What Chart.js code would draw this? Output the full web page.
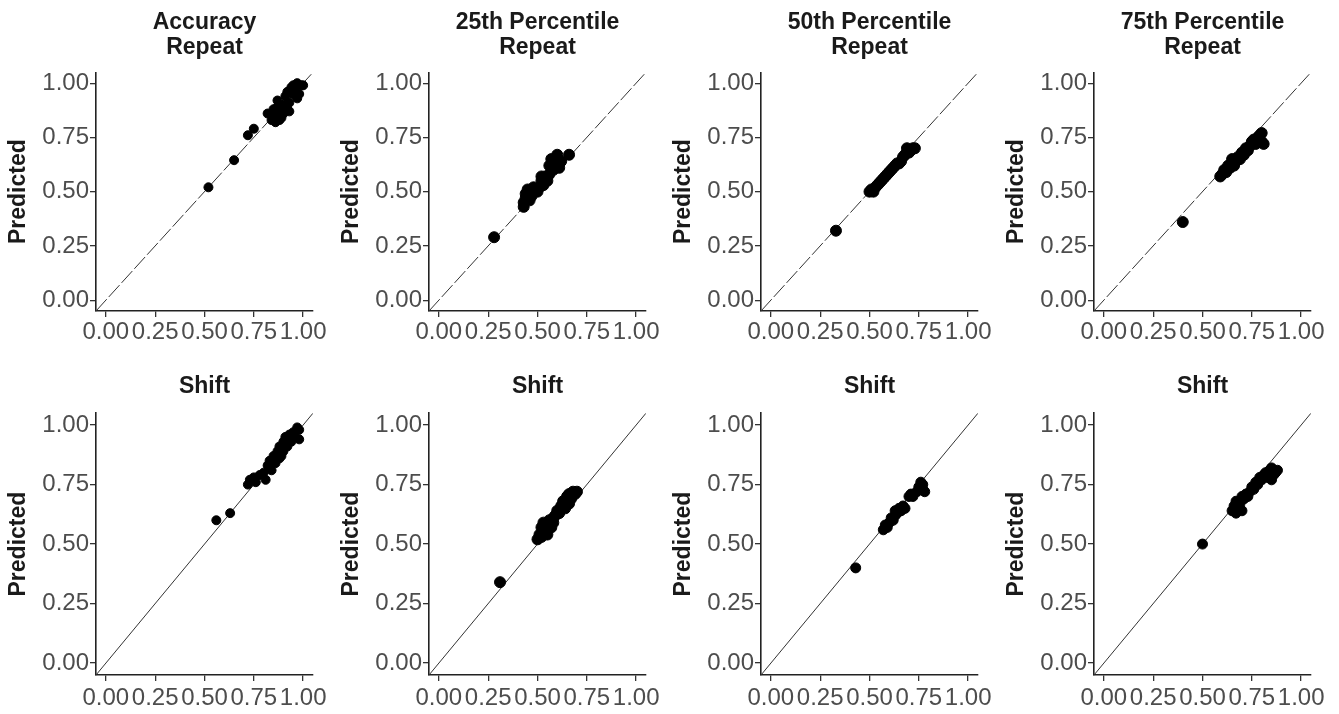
<!DOCTYPE html>
<html>
<head>
<meta charset="utf-8">
<script src="https://cdn.jsdelivr.net/npm/chart.js@4.4.1/dist/chart.umd.min.js"></script>
<style>
  body { margin: 0; background: #fff; width: 1339px; height: 714px; position: relative; overflow: hidden; }
  canvas { position: absolute; }
</style>
</head>
<body>
<canvas id="p0"></canvas>
<canvas id="p1"></canvas>
<canvas id="p2"></canvas>
<canvas id="p3"></canvas>
<canvas id="p4"></canvas>
<canvas id="p5"></canvas>
<canvas id="p6"></canvas>
<canvas id="p7"></canvas>
<script>
// panel titles, ticks
const panelTitles = [
  ['Accuracy', 'Repeat'], ['25th Percentile', 'Repeat'], ['50th Percentile', 'Repeat'], ['75th Percentile', 'Repeat'],
  ['Shift'], ['Shift'], ['Shift'], ['Shift']
];
const yLabel = 'Predicted';
const tickValues = [0, 0.25, 0.5, 0.75, 1];
const axisLimits = [-0.05, 1.05];

const accRepeatX = [0.52,0.65,0.72,0.75,0.82,0.84,0.85,0.86,0.86,0.87,0.87,0.88,0.89,0.90,0.91,0.92,0.92,0.93,0.93,0.94,0.95,0.95,0.96,0.97,0.97,0.98,0.99,1.00,0.88,0.90];
const accRepeatY = [0.52,0.645,0.76,0.79,0.86,0.83,0.88,0.82,0.85,0.92,0.89,0.87,0.84,0.90,0.94,0.96,0.88,0.91,0.87,0.98,0.99,0.95,0.97,1.00,0.93,0.95,0.99,0.99,0.83,0.86];

const p25RepeatX = [0.28,0.43,0.43,0.44,0.44,0.45,0.46,0.47,0.48,0.48,0.50,0.51,0.52,0.52,0.53,0.54,0.55,0.56,0.56,0.57,0.58,0.59,0.60,0.61,0.62,0.66];
const p25RepeatY = [0.29,0.43,0.45,0.47,0.49,0.51,0.46,0.48,0.50,0.52,0.50,0.52,0.55,0.57,0.53,0.57,0.55,0.58,0.62,0.65,0.60,0.63,0.67,0.61,0.64,0.67];

const p50RepeatX = [0.33,0.50,0.51,0.52,0.53,0.54,0.55,0.56,0.57,0.58,0.59,0.60,0.61,0.62,0.63,0.64,0.65,0.66,0.67,0.68,0.69,0.70,0.71,0.72,0.73,0.69];
const p50RepeatY = [0.32,0.50,0.51,0.50,0.52,0.53,0.54,0.55,0.56,0.57,0.58,0.59,0.60,0.61,0.62,0.63,0.63,0.64,0.66,0.67,0.68,0.68,0.69,0.70,0.70,0.70];

const p75RepeatX = [0.40,0.59,0.60,0.61,0.62,0.63,0.64,0.65,0.65,0.66,0.67,0.68,0.69,0.70,0.71,0.72,0.73,0.74,0.75,0.76,0.77,0.78,0.79,0.80,0.80,0.81];
const p75RepeatY = [0.36,0.57,0.58,0.60,0.59,0.62,0.61,0.63,0.65,0.62,0.64,0.66,0.65,0.68,0.67,0.70,0.69,0.71,0.73,0.74,0.72,0.75,0.76,0.77,0.73,0.72];

const accShiftX = [0.56,0.63,0.72,0.73,0.75,0.76,0.78,0.80,0.81,0.82,0.83,0.84,0.85,0.86,0.87,0.88,0.88,0.89,0.90,0.90,0.91,0.92,0.93,0.94,0.95,0.96,0.97,0.98,0.98];
const accShiftY = [0.60,0.63,0.75,0.77,0.78,0.76,0.79,0.80,0.77,0.83,0.85,0.81,0.87,0.84,0.89,0.86,0.91,0.87,0.93,0.89,0.95,0.91,0.96,0.93,0.97,0.95,0.99,0.94,0.98];

const p25ShiftX = [0.31,0.50,0.51,0.52,0.52,0.53,0.53,0.54,0.55,0.55,0.56,0.57,0.58,0.58,0.59,0.60,0.61,0.62,0.63,0.64,0.65,0.66,0.66,0.67,0.68,0.69,0.70];
const p25ShiftY = [0.34,0.52,0.54,0.57,0.53,0.55,0.59,0.56,0.58,0.54,0.60,0.57,0.61,0.59,0.62,0.64,0.63,0.66,0.68,0.65,0.70,0.67,0.71,0.69,0.72,0.71,0.72];

const p50ShiftX = [0.43,0.57,0.58,0.59,0.60,0.61,0.62,0.63,0.63,0.64,0.65,0.66,0.67,0.68,0.70,0.71,0.72,0.74,0.75,0.76,0.77,0.78,0.77];
const p50ShiftY = [0.40,0.56,0.58,0.57,0.59,0.61,0.60,0.62,0.64,0.63,0.65,0.64,0.66,0.65,0.70,0.71,0.70,0.72,0.74,0.76,0.75,0.72,0.73];

const p75ShiftX = [0.50,0.65,0.66,0.67,0.67,0.68,0.69,0.70,0.70,0.71,0.72,0.73,0.74,0.75,0.76,0.77,0.78,0.79,0.80,0.81,0.82,0.83,0.84,0.85,0.86,0.87,0.88,0.85];
const p75ShiftY = [0.50,0.64,0.66,0.63,0.68,0.65,0.67,0.64,0.70,0.69,0.71,0.70,0.72,0.74,0.73,0.76,0.75,0.78,0.77,0.79,0.80,0.78,0.81,0.82,0.79,0.80,0.81,0.77];

const seriesX = [accRepeatX, p25RepeatX, p50RepeatX, p75RepeatX, accShiftX, p25ShiftX, p50ShiftX, p75ShiftX];
const seriesY = [accRepeatY, p25RepeatY, p50RepeatY, p75RepeatY, accShiftY, p25ShiftY, p50ShiftY, p75ShiftY];

Chart.defaults.font.family = '"Liberation Sans", Arial, sans-serif';
Chart.defaults.color = '#4d4d4d';

// layout of the grid
const colLeft = [0, 333, 665, 998];
const rows = [
  { top: 0,   height: 357, titlePad: { top: 11, bottom: 13 }, xAxisH: 46, xPad: 1, dash: [16, 3] },
  { top: 357, height: 357, titlePad: { top: 18, bottom: 14 }, xAxisH: 39, xPad: 3, dash: [] }
];
const dotSize = [4.5, 5.5, 5.5, 5.5, 4.5, 5.5, 5, 5];

for (let i = 0; i < 8; i++) {
  const row = rows[Math.floor(i / 4)];
  const cv = document.getElementById('p' + i);
  cv.width = 335; cv.height = row.height;
  cv.style.left = colLeft[i % 4] + 'px';
  cv.style.top = row.top + 'px';

  const pts = seriesX[i].map((x, k) => ({ x: x, y: seriesY[i][k] }));
  const axisCommon = {
    type: 'linear', min: axisLimits[0], max: axisLimits[1],
    afterBuildTicks: s => { s.ticks = tickValues.map(v => ({ value: v })); },
    grid: { drawOnChartArea: false, drawTicks: true, tickLength: 6, color: '#333', lineWidth: 1.3 },
    border: { display: true, color: '#222', width: 1.6 },
    ticks: { autoSkip: false, maxRotation: 0, color: '#4d4d4d', font: { size: 24 }, callback: v => v.toFixed(2) }
  };

  new Chart(cv, {
    type: 'scatter',
    data: {
      datasets: [
        { data: pts, backgroundColor: '#000', borderColor: '#000', pointRadius: dotSize[i], pointHoverRadius: dotSize[i], order: 0 },
        { type: 'line', data: [{ x: axisLimits[0], y: axisLimits[0] }, { x: axisLimits[1], y: axisLimits[1] }],
          borderColor: '#333', borderWidth: 1, borderDash: row.dash, pointRadius: 0, fill: false, order: 1 }
      ]
    },
    options: {
      responsive: false,
      animation: false,
      devicePixelRatio: 1,
      layout: { padding: { left: 0, right: 22, top: 0, bottom: 0 } },
      plugins: {
        legend: { display: false },
        tooltip: { enabled: false },
        title: {
          display: true, fullSize: false, text: panelTitles[i], color: '#1a1a1a',
          font: { size: 23, weight: 'bold', lineHeight: 1.05 },
          padding: row.titlePad
        }
      },
      scales: {
        x: Object.assign({}, axisCommon, {
          position: 'bottom',
          afterFit: s => { s.height = row.xAxisH; },
          ticks: Object.assign({}, axisCommon.ticks, { padding: row.xPad })
        }),
        y: Object.assign({}, axisCommon, {
          position: 'left',
          afterFit: s => { s.width = 96; },
          ticks: Object.assign({}, axisCommon.ticks, { padding: 1 }),
          title: { display: true, text: yLabel, color: '#1a1a1a', font: { size: 23, weight: 'bold' }, padding: { top: 5, bottom: 0 } }
        })
      }
    }
  });
}
</script>
</body>
</html>
